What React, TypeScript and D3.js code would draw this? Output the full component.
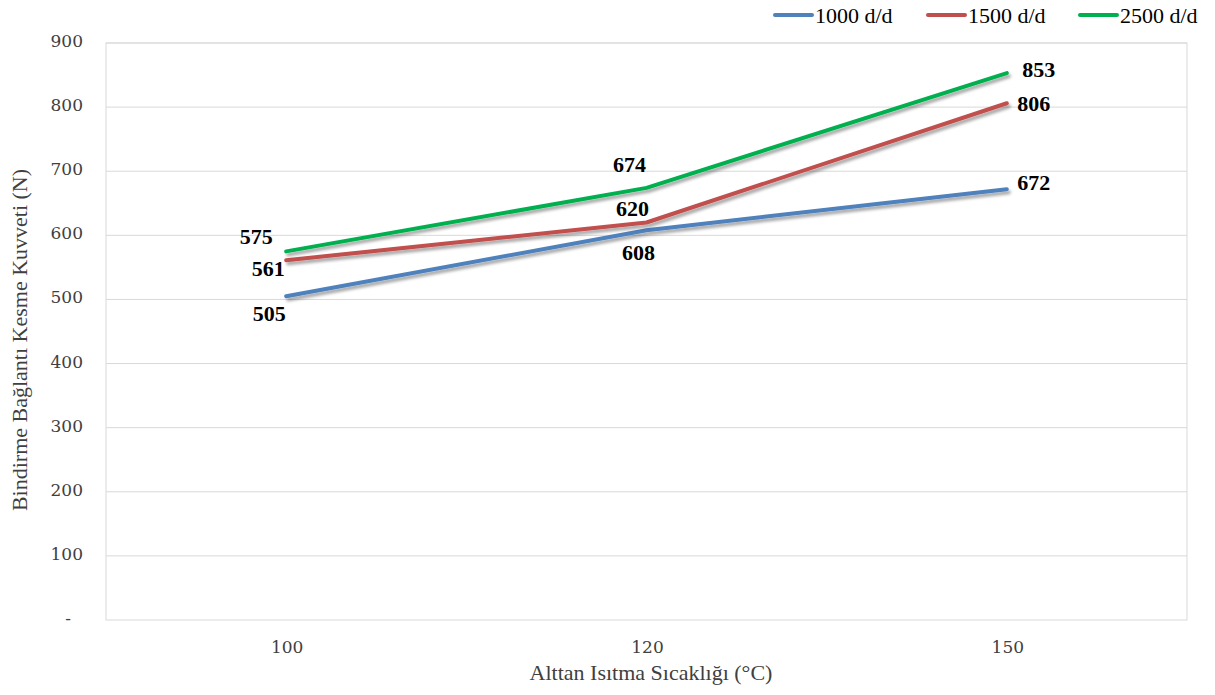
import React from "react";
import * as d3 from "d3";

const categories = ["100", "120", "150"];
const seriesNames = ["1000 d/d", "1500 d/d", "2500 d/d"];
const values1000 = [505, 608, 672];
const values1500 = [561, 620, 806];
const values2500 = [575, 674, 853];
const yTicks = [0, 100, 200, 300, 400, 500, 600, 700, 800, 900];
const colors = ["#4f81bd", "#c0504d", "#00b050"];

// label centre offsets [dx, dy] relative to each point (style, not data)
const labelOffsets = [
  [[-17, 17], [-8, 22], [27, -7]],
  [[-18, 8], [-14, -14], [27, 0]],
  [[-30, -15], [-17, -23], [32, -4]],
];

const W = 1215, H = 695;
const M = { left: 106, right: 1187, top: 43, bottom: 620 };

export default function App() {
  const x = d3.scaleBand().domain(categories).range([M.left, M.right]).padding(0);
  const y = d3.scaleLinear().domain([0, 900]).range([M.bottom, M.top]);
  const series = [values1000, values1500, values2500];
  const cx = (i: number) => (x(categories[i]) as number) + x.bandwidth() / 2;
  const line = d3
    .line<number>()
    .x((_, i) => cx(i))
    .y((d) => y(d));
  const serif = "'Liberation Serif', 'Times New Roman', serif";
  const tickFont = "'DejaVu Serif', serif";
  const legendX = [775, 928, 1080];
  return (
    <svg width={W} height={H} style={{ position: "absolute", left: 0, top: 0, background: "#fff" }}>
      <defs>
        <filter id="sh" x="-10%" y="-50%" width="120%" height="200%">
          <feDropShadow dx="2" dy="3" stdDeviation="1.8" floodColor="#000" floodOpacity="0.35" />
        </filter>
      </defs>
      <rect x={0} y={0} width={W} height={H} fill="#fff" />
      {yTicks.slice(1).map((t) => (
        <line key={t} x1={M.left} x2={M.right} y1={y(t)} y2={y(t)} stroke="#d9d9d9" strokeWidth={1} />
      ))}
      <rect x={M.left} y={M.top} width={M.right - M.left} height={M.bottom - M.top} fill="none" stroke="#d9d9d9" strokeWidth={1} />
      {yTicks.map((t) => (
        <text key={t} x={t === 0 ? 71 : 83} y={y(t) + 4} textAnchor="end" fontFamily={tickFont} fontSize={17} fill="#404040">
          {t === 0 ? "-" : t}
        </text>
      ))}
      {categories.map((c, i) => (
        <text key={c} x={cx(i) + 1} y={653} textAnchor="middle" fontFamily={tickFont} fontSize={17} fill="#404040">
          {c}
        </text>
      ))}
      <text x={651} y={680} textAnchor="middle" fontFamily={serif} fontSize={22} fill="#404040">
        Alttan Isıtma Sıcaklığı (°C)
      </text>
      <text transform={`translate(27,340) rotate(-90)`} textAnchor="middle" fontFamily={serif} fontSize={22} fill="#404040">
        Bindirme Bağlantı Kesme Kuvveti (N)
      </text>
      {series.map((s, k) => (
        <path key={k} d={line(s) as string} fill="none" stroke={colors[k]} strokeWidth={4} strokeLinejoin="round" strokeLinecap="round" filter="url(#sh)" />
      ))}
      {series.map((s, k) =>
        s.map((v, i) => (
          <text
            key={`${k}-${i}`}
            x={cx(i) + labelOffsets[k][i][0]}
            y={y(v) + labelOffsets[k][i][1] + 7.5}
            textAnchor="middle"
            fontFamily={serif}
            fontSize={22}
            fontWeight="bold"
            fill="#000"
          >
            {v}
          </text>
        ))
      )}
      {seriesNames.map((n, k) => (
        <g key={n}>
          <line x1={legendX[k]} x2={legendX[k] + 37} y1={15} y2={15} stroke={colors[k]} strokeWidth={4} strokeLinecap="round" />
          <text x={legendX[k] + 40} y={23} fontFamily={serif} fontSize={22} fill="#000">
            {n}
          </text>
        </g>
      ))}
    </svg>
  );
}
